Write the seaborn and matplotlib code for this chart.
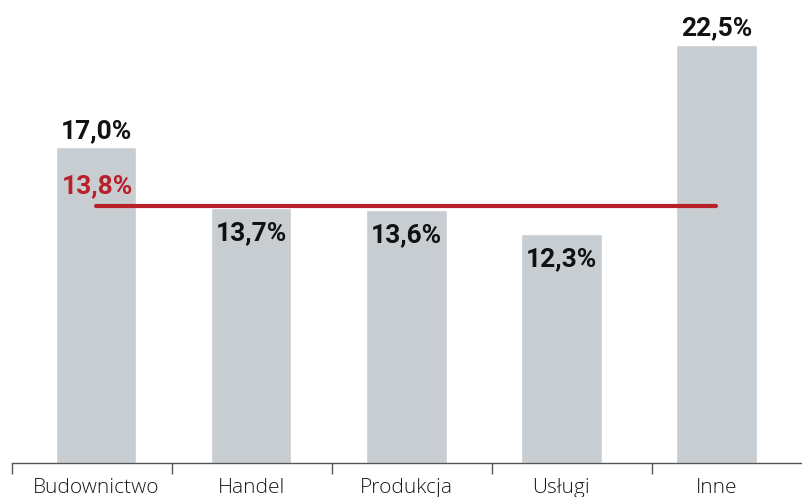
import matplotlib as mpl
import matplotlib.pyplot as plt
import seaborn as sns

mpl.use('Agg')

# data
categories = ['Budownictwo', 'Handel', 'Produkcja', 'Usługi', 'Inne']
values = [17.0, 13.7, 13.6, 12.3, 22.5]
value_labels = ['17,0%', '13,7%', '13,6%', '12,3%', '22,5%']
average = 13.8
average_label = '13,8%'

# general settings
sns.set_theme(style='white')
plt.rcParams['font.family'] = ['Open Sans', 'DejaVu Sans']
bar_color = '#c8cdd1'
avg_color = '#b8202a'
label_font = ['Roboto', 'DejaVu Sans']

fig = plt.figure(figsize=(8.02, 4.97), dpi=100)
ax = fig.add_axes([12 / 802, 34 / 497, 790 / 802, 463 / 497])

sns.barplot(x=categories, y=values, color=bar_color, width=0.52,
            saturation=1, ax=ax)

# average line from first to last bar
ax.hlines(average, 0, len(categories) - 1, color=avg_color, linewidth=3,
          capstyle='round', zorder=3)
ax.annotate(average_label, xy=(0, average), xytext=(-24.5, 6),
            textcoords='offset points', ha='left', va='bottom',
            fontsize=19, fontweight='bold', color=avg_color, family=label_font)

# value labels: above the bar if over average, inside otherwise
for i, (v, lab) in enumerate(zip(values, value_labels)):
    if v > average:
        ax.annotate(lab, xy=(i, v), xytext=(0, 3), textcoords='offset points',
                    ha='center', va='bottom', fontsize=19, fontweight='bold',
                    color='#111111', family=label_font)
    else:
        ax.annotate(lab, xy=(i, v), xytext=(0, -9.5), textcoords='offset points',
                    ha='center', va='top', fontsize=19, fontweight='bold',
                    color='#111111', family=label_font)

# axes
ax.set_xlim(-0.5416, 4.552)
ax.set_ylim(0, 24.9)
ax.set_yticks([])
ax.set_xticks(range(len(categories)))
ax.set_xticklabels(categories, fontsize=15, color='#1a1a1a', fontweight='light')
ax.set_xticks([-0.5416, 0.49, 1.5216, 2.5532, 3.5848], minor=True)
ax.tick_params(axis='x', which='major', length=0, pad=11)
ax.tick_params(axis='x', which='minor', bottom=True, length=8, width=1,
               color='#555555')
for s in ['top', 'right', 'left']:
    ax.spines[s].set_visible(False)
ax.spines['bottom'].set_color('#555555')
ax.spines['bottom'].set_linewidth(1)
ax.set_xlabel('')
ax.set_ylabel('')

plt.savefig('out.png', dpi=100)
plt.close()
